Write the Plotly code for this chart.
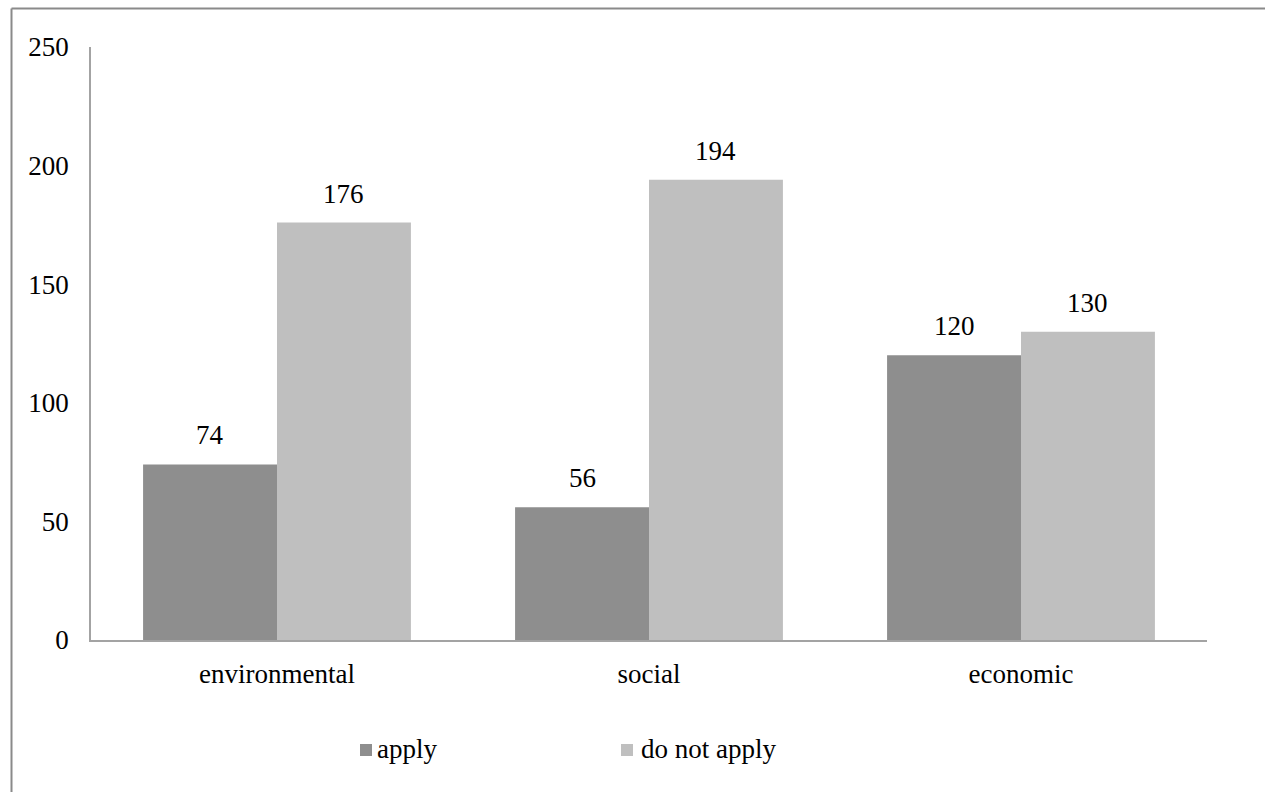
import plotly.graph_objects as go

# Survey counts per sustainability dimension
categories = ["environmental", "social", "economic"]
apply_counts = [74, 56, 120]
not_apply_counts = [176, 194, 130]
series_names = ["apply", "do not apply"]
y_ticks = [0, 50, 100, 150, 200, 250]

W, H = 1265, 792
M_L, M_R, M_T, M_B = 91, 58, 47, 152
PLOT_W = W - M_L - M_R
PLOT_H = H - M_T - M_B

FONT = "Liberation Serif"
FS = 27
AXIS_COLOR = "#a3a3a3"
COLORS = ["#8e8e8e", "#bfbfbf"]


def px_x(px):
    return (px - M_L) / PLOT_W


def px_y(py):
    return (M_T + PLOT_H - py) / PLOT_H


fig = go.Figure()
for name, vals, col in zip(series_names, [apply_counts, not_apply_counts], COLORS):
    fig.add_trace(go.Bar(
        x=categories, y=vals, name=name,
        marker=dict(color=col, line=dict(width=0)),
    ))

# Value labels above each bar
group_frac = 1 - 0.28
bar_px = PLOT_W / len(categories) * group_frac / 2
for i, (name, vals) in enumerate(zip(series_names, [apply_counts, not_apply_counts])):
    shift = (i - 0.5) * bar_px
    for c, v in zip(categories, vals):
        fig.add_annotation(
            x=c, y=v, text=str(v), showarrow=False,
            xshift=shift, yshift=12, yanchor="bottom",
            font=dict(family=FONT, size=FS, color="#000000"),
        )

# Legend: colour key squares followed by series names
legend_items = [(360, 375), (621, 639)]
for (sq_x, txt_x), name, col in zip(legend_items, series_names, COLORS):
    fig.add_shape(type="rect", xref="paper", yref="paper",
                  x0=px_x(sq_x), x1=px_x(sq_x + 12),
                  y0=px_y(756), y1=px_y(744),
                  fillcolor=col, line=dict(width=0))
    fig.add_annotation(xref="paper", yref="paper",
                       x=px_x(txt_x), y=px_y(749), xanchor="left", yanchor="middle",
                       text=name, showarrow=False,
                       font=dict(family=FONT, size=FS, color="#000000"))

# Outer frame of the chart area
top_y = px_y(8.5)
left_x = px_x(11.5)
fig.add_shape(type="line", xref="paper", yref="paper",
              x0=left_x, x1=px_x(W + 5), y0=top_y, y1=top_y,
              line=dict(color="#8a8a8a", width=2))
fig.add_shape(type="line", xref="paper", yref="paper",
              x0=left_x, x1=left_x, y0=top_y, y1=px_y(H + 5),
              line=dict(color="#8a8a8a", width=2))

fig.update_layout(
    width=W, height=H,
    margin=dict(l=M_L, r=M_R, t=M_T, b=M_B),
    paper_bgcolor="white", plot_bgcolor="white",
    barmode="group", bargap=0.28, bargroupgap=0,
    font=dict(family=FONT, size=FS, color="#000000"),
    showlegend=False,
    xaxis=dict(
        showline=True, linecolor=AXIS_COLOR, linewidth=1.5,
        showgrid=False, ticks="", ticklabelstandoff=9,
        tickfont=dict(family=FONT, size=FS),
    ),
    yaxis=dict(
        range=[0, 250], tickvals=y_ticks,
        showline=True, linecolor=AXIS_COLOR, linewidth=1.5,
        showgrid=False, zeroline=False, ticks="", ticklabelstandoff=15,
        tickfont=dict(family=FONT, size=FS),
    ),
)

fig.write_html("out.html")
